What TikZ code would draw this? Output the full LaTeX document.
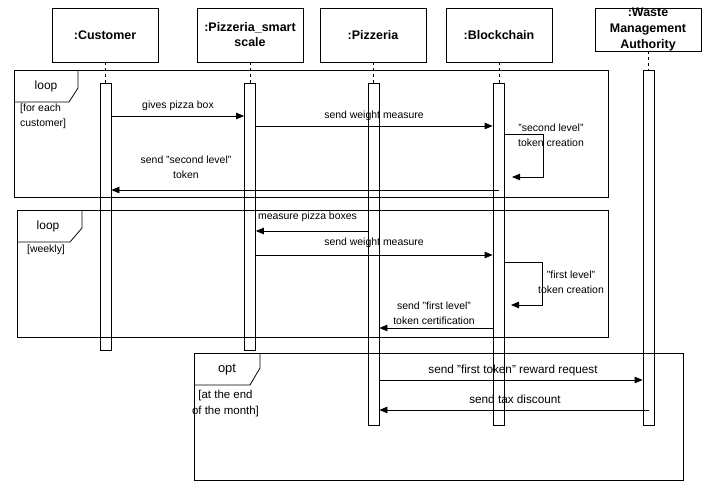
\documentclass[tikz,border=0pt]{standalone}
\usepackage{fontspec}
\setmainfont{Liberation Sans}
\usetikzlibrary{arrows.meta}
\begin{document}
\begin{tikzpicture}[x=1bp,y=-1bp,
  head/.style={draw, line width=0.8pt, minimum width=106bp, align=center, inner sep=0pt,
    font=\fontsize{12.5}{15}\selectfont\bfseries},
  headtext/.style={align=center, inner sep=0pt, font=\fontsize{12.5}{16.5}\selectfont\bfseries},
  act/.style={draw, fill=white, minimum width=11bp, inner sep=0pt, line width=0.8pt},
  life/.style={dash pattern=on 3bp off 3bp, line width=0.8pt},
  msg/.style={-{Triangle[length=8bp,width=6.5bp]}, line width=0.8pt},
  lbl/.style={font=\fontsize{10.5}{15}\selectfont, align=center, inner sep=0pt},
  biglbl/.style={font=\fontsize{11.8}{16}\selectfont, align=center, inner sep=0pt},
  frm/.style={line width=0.8pt},
  ftitle/.style={font=\fontsize{12}{14}\selectfont, inner sep=0pt}
]
\useasboundingbox (0,0) rectangle (708,481);

% headers
\node[head, minimum height=54bp] (hC) at (105,35) {:Customer};
\node[head, minimum height=54bp] (hS) at (250,35) {:Pizzeria\_smart\\scale};
\node[head, minimum height=54bp] (hP) at (373,35) {:Pizzeria};
\node[head, minimum height=54bp] (hB) at (499,35) {:Blockchain};
\node[draw, line width=0.8pt, minimum width=106bp, minimum height=43bp, inner sep=0pt] (hW) at (648,29.5) {};
\node[headtext] (hWt) at (648,29.5) {:Waste\\Management\\Authority};

% activations
\node[act, minimum height=267bp] (aC) at (105.5,216.5) {};
\node[act, minimum height=267bp] (aS) at (250,216.5) {};
\node[act, minimum height=342bp] (aP) at (373.5,254) {};
\node[act, minimum height=342bp] (aB) at (498.5,254) {};
\node[act, minimum height=355bp] (aW) at (648.5,247.5) {};

% lifelines
\draw[life] (hC.south) -- (hC.south |- aC.north);
\draw[life] (hS.south) -- (hS.south |- aS.north);
\draw[life] (hP.south) -- (hP.south |- aP.north);
\draw[life] (hB.south) -- (hB.south |- aB.north);
\draw[life] (hW.south) -- (hW.south |- aW.north);

% loop frame 1
\draw[frm] (14,70) rectangle (608,197);
\draw[frm] (14,102) -- (69,102) -- (78,88) -- (78,70);
\node[ftitle] (f1t) at (46,86) {loop};
\node[lbl, align=left, anchor=west] (f1g) at (20,116) {[for each\\customer]};

% loop frame 2
\draw[frm] (17,210) rectangle (608,337);
\draw[frm] (17,242) -- (70,242) -- (82,228) -- (82,210);
\node[ftitle] (f2t) at (48,226) {loop};
\node[lbl] (f2g) at (46,250) {[weekly]};

% opt frame
\draw[frm] (194,353) rectangle (683,480);
\draw[frm] (194,385) -- (250,385) -- (260,368) -- (260,353);
\node[font=\fontsize{13}{15}\selectfont, inner sep=0pt] (f3t) at (227,370) {opt};
\node[font=\fontsize{11.5}{16}\selectfont, align=center, inner sep=0pt] (f3g) at (225.5,404) {[at the end\\of the month]};

% messages in loop 1
\draw[msg] (aC.east |- 0,116) -- (aS.west |- 0,116);
\node[lbl] (l1) at (178,106) {gives pizza box};
\draw[msg] (aS.east |- 0,126) -- (aB.west |- 0,126);
\node[lbl] (l2) at (374,116) {send weight measure};
\coordinate (s1a) at (543,134);
\coordinate (s1b) at (543,177);
\coordinate (s1c) at (512,177);
\draw[msg] (aB.east |- 0,134) -- (s1a) -- (s1b) -- (s1c);
\node[lbl] (l3) at (551,135) {"second level"\\token creation};
\draw[msg] (aB.center |- 0,190) -- (aC.east |- 0,190);
\node[lbl] (l4) at (186,167.5) {send "second level"\\token};

% messages in loop 2
\draw[msg] (aP.west |- 0,231) -- (aS.east |- 0,231);
\node[lbl] (l5) at (307.5,217) {measure pizza boxes};
\draw[msg] (aS.east |- 0,255) -- (aB.west |- 0,255);
\node[lbl] (l6) at (374,243) {send weight measure};
\coordinate (s2a) at (542,262);
\coordinate (s2b) at (542,305);
\coordinate (s2c) at (511,305);
\draw[msg] (aB.east |- 0,262) -- (s2a) -- (s2b) -- (s2c);
\node[lbl] (l7) at (571,282.5) {"first level"\\token creation};
\draw[msg] (aB.west |- 0,328) -- (aP.east |- 0,328);
\node[lbl] (l8) at (434,313.5) {send "first level"\\token certification};

% messages in opt
\draw[msg] (aP.east |- 0,380) -- (aW.west |- 0,380);
\node[biglbl] (l9) at (513,370) {send "first token" reward request};
\draw[msg] (aW.center |- 0,410) -- (aP.east |- 0,410);
\node[biglbl] (l10) at (515,399) {send tax discount};
\end{tikzpicture}
\end{document}
